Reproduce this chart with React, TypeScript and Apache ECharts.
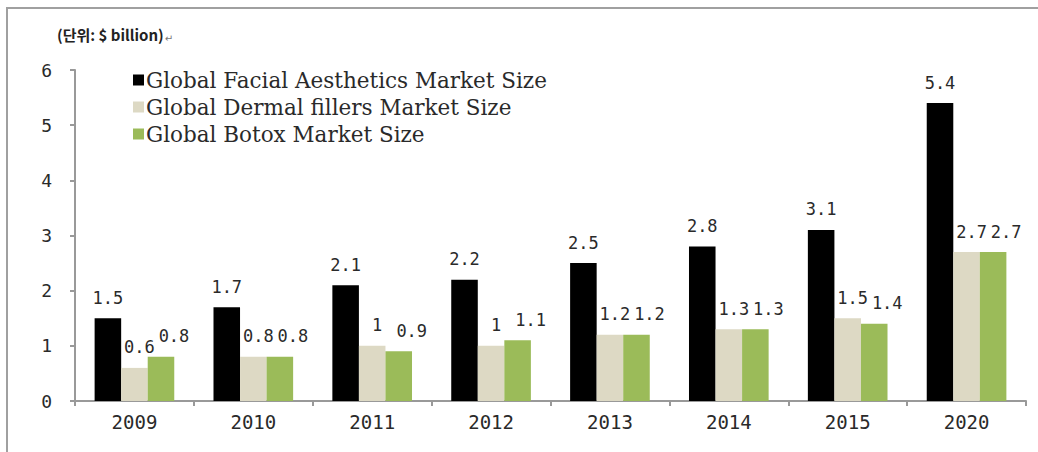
import React, { useEffect, useRef } from "react";
import * as echarts from "echarts";

const categories = ["2009", "2010", "2011", "2012", "2013", "2014", "2015", "2020"];
const facialValues = [1.5, 1.7, 2.1, 2.2, 2.5, 2.8, 3.1, 5.4];
const dermalValues = [0.6, 0.8, 1, 1, 1.2, 1.3, 1.5, 2.7];
const botoxValues = [0.8, 0.8, 0.9, 1.1, 1.2, 1.3, 1.4, 2.7];
const seriesNames = [
  "Global Facial Aesthetics Market Size",
  "Global Dermal fillers Market Size",
  "Global Botox Market Size",
];
const unitTitle = "(단위: $ billion)";

const numFont = "'DejaVu Sans Mono', monospace";
const textColor = "#2a2a2a";

export default function App() {
  const ref = useRef<HTMLDivElement>(null);
  useEffect(() => {
    if (!ref.current) return;
    const chart = echarts.init(ref.current, undefined, { renderer: "svg" });
    const colors = ["#000000", "#ddd9c4", "#9bbb59"];
    const offsets = [[0, 0], [5, 0], [13, 0]];
    const data = [facialValues, dermalValues, botoxValues];
    chart.setOption({
      animation: false,
      backgroundColor: "#fff",
      graphic: [
        {
          type: "polyline",
          shape: { points: [[7, 452], [7, 8], [1038, 8]] },
          style: { stroke: "#a0a0a0", lineWidth: 2, fill: "none" },
        },
        {
          type: "text",
          left: 57,
          top: 27,
          style: {
            text: "{a|" + unitTitle + "}{b|↵}",
            rich: {
              a: { fontFamily: "'Noto Sans CJK KR', 'DejaVu Sans'", fontSize: 15, fontWeight: "bold", fill: "#222" },
              b: { fontFamily: "'DejaVu Sans'", fontSize: 10, fill: "#777", padding: [8, 0, 0, 1] },
            },
          },
        },
      ],
      legend: {
        orient: "vertical",
        left: 128,
        top: 64,
        itemWidth: 11,
        itemHeight: 11,
        itemGap: 5,
        icon: "rect",
        textStyle: {
          fontFamily: "'DejaVu Serif', serif",
          fontSize: 21.5,
          color: textColor,
          padding: [0, 0, 0, -3],
        },
        data: seriesNames,
      },
      grid: { left: 75, right: 12, top: 70, bottom: 51, containLabel: false },
      xAxis: {
        type: "category",
        data: categories,
        axisLine: { lineStyle: { color: "#999", width: 2 } },
        axisTick: { show: true, length: 5, lineStyle: { color: "#999", width: 2 } },
        axisLabel: { fontFamily: numFont, fontSize: 19, color: textColor, margin: 11 },
      },
      yAxis: {
        type: "value",
        min: 0,
        max: 6,
        interval: 1,
        splitLine: { show: false },
        axisLine: { show: true, lineStyle: { color: "#999", width: 2 } },
        axisTick: { show: true, length: 5, lineStyle: { color: "#999", width: 2 } },
        axisLabel: { fontFamily: numFont, fontSize: 18, color: textColor, margin: 23 },
      },
      series: seriesNames.map((name, i) => ({
        name,
        type: "bar",
        data: data[i],
        barGap: "0%",
        barCategoryGap: "33%",
        itemStyle: { color: colors[i] },
        label: {
          show: true,
          position: "top",
          distance: 12,
          offset: offsets[i],
          fontFamily: numFont,
          fontSize: 17,
          color: textColor,
        },
      })),
    });
    return () => chart.dispose();
  }, []);
  return <div ref={ref} style={{ width: 1038, height: 452, position: "absolute", left: 0, top: 0 }} />;
}
